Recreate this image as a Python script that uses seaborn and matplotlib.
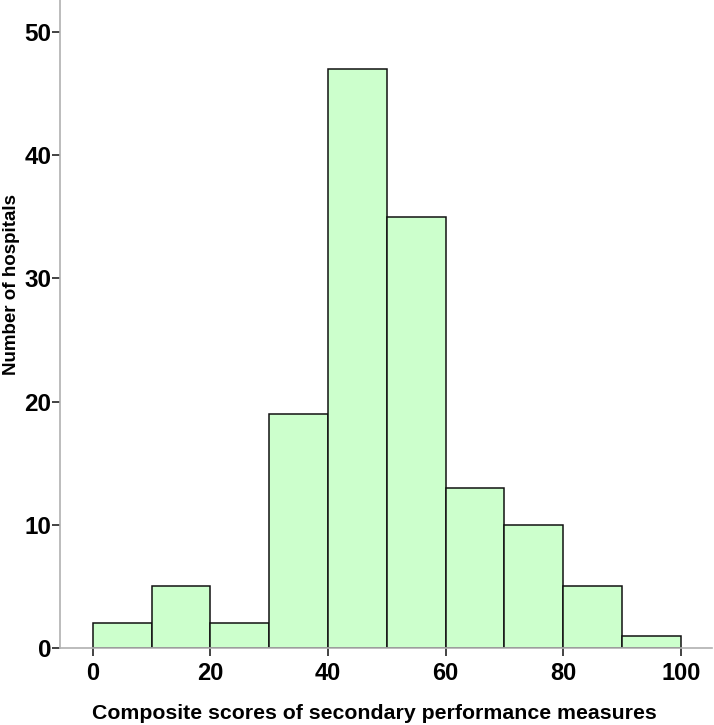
import numpy as np
import pandas as pd
import matplotlib
matplotlib.use("Agg")
import matplotlib.pyplot as plt
import seaborn as sns

# Bin edges and counts
bin_edges = [0, 10, 20, 30, 40, 50, 60, 70, 80, 90, 100]
counts = [2, 5, 2, 19, 47, 35, 13, 10, 5, 1]
x_ticks = [0, 20, 40, 60, 80, 100]
y_ticks = [0, 10, 20, 30, 40, 50]

# bin midpoints weighted by counts -> seaborn histplot
mids = [(a + b) / 2 for a, b in zip(bin_edges[:-1], bin_edges[1:])]
df = pd.DataFrame({"score": mids, "n": counts})

sns.set_style("white")
plt.rcParams["font.family"] = ["Liberation Sans", "DejaVu Sans"]
plt.rcParams["font.weight"] = "bold"
plt.rcParams["text.color"] = "black"

fig = plt.figure(figsize=(7.14, 7.25), dpi=100)
ax = fig.add_axes([0.084, 0.1062, 0.913, 0.8938])

sns.histplot(data=df, x="score", weights="n", bins=bin_edges, ax=ax,
             color="#ccffcc", edgecolor="#111111", linewidth=1.1, alpha=1)

ax.set_xlim(-5.6, 105.3)
ax.set_ylim(0, 52.6)
ax.set_xticks(x_ticks)
ax.set_yticks(y_ticks)
ax.tick_params(axis="both", bottom=True, left=True, length=5.8, width=1.2,
               color="#222222", direction="out", labelcolor="black")
ax.tick_params(axis="x", labelsize=17, pad=4.5)
ax.tick_params(axis="y", labelsize=17.5, pad=0.5)
for lab in ax.get_xticklabels() + ax.get_yticklabels():
    lab.set_fontweight("bold")

for side in ["top", "right"]:
    ax.spines[side].set_visible(False)
for side in ["left", "bottom"]:
    ax.spines[side].set_color("#b0b0b0")
    ax.spines[side].set_linewidth(1.2)

ax.set_xlabel("Composite scores of secondary performance measures",
              fontsize=15.3, fontweight="bold", color="black")
ax.set_ylabel("Number of hospitals", fontsize=13.5, fontweight="bold", color="black")
ax.xaxis.set_label_coords(0.483, -0.086)
ax.yaxis.set_label_coords(-0.062, 0.561)

fig.savefig("out.png", dpi=100)
